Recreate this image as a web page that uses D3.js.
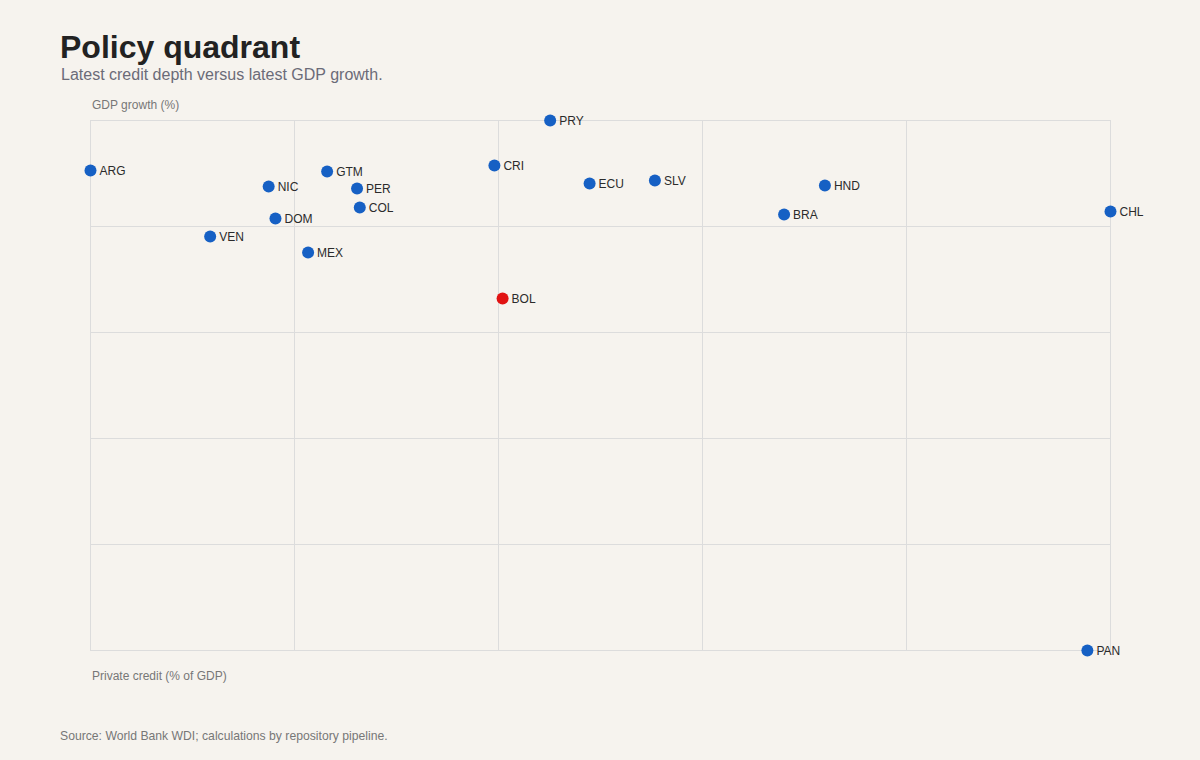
<!DOCTYPE html>
<html>
<head>
<meta charset="utf-8">
<script src="https://cdn.jsdelivr.net/npm/d3@7"></script>
<style>
  body { margin: 0; background: #f6f3ee; font-family: "Liberation Sans", Arial, sans-serif; }
</style>
</head>
<body>
<div id="chart"></div>
<script>
const countries = ['ARG', 'NIC', 'GTM', 'PER', 'COL', 'DOM', 'VEN', 'MEX', 'CRI', 'PRY', 'ECU', 'SLV', 'BOL', 'HND', 'BRA', 'CHL', 'PAN'];
const privateCredit = [8.0, 21.1, 25.4, 27.6, 27.8, 21.6, 16.8, 24.0, 37.7, 41.8, 44.7, 49.5, 38.3, 62.0, 59.0, 83.0, 81.3];
const gdpGrowth = [2.57, 1.89, 2.53, 1.80, 0.99, 0.52, -0.25, -0.93, 2.78, 4.7, 2.01, 2.14, -2.89, 1.93, 0.69, 0.82, -17.9];
const highlight = 'BOL';

const width = 1200;
const height = 760;
const margin = { top: 120, right: 90, bottom: 110, left: 90 };

const svg = d3.select('#chart')
  .append('svg')
  .attr('width', width)
  .attr('height', height);

svg.append('rect')
  .attr('width', width)
  .attr('height', height)
  .attr('fill', '#f6f3ee');

const data = countries.map((c, i) => ({ code: c, x: privateCredit[i], y: gdpGrowth[i] }));

const x = d3.scaleLinear()
  .domain(d3.extent(privateCredit))
  .range([margin.left, width - margin.right]);

const y = d3.scaleLinear()
  .domain(d3.extent(gdpGrowth))
  .range([height - margin.bottom, margin.top]);

// evenly spaced grid across the domain
const steps = d3.range(6).map((i) => i / 5);
const grid = svg.append('g').attr('stroke', '#dcdcdc').attr('stroke-width', 1);

grid.selectAll('.gx')
  .data(steps.map((t) => x.domain()[0] + t * (x.domain()[1] - x.domain()[0])))
  .enter()
  .append('line')
  .attr('x1', (d) => Math.round(x(d)) + 0.5)
  .attr('x2', (d) => Math.round(x(d)) + 0.5)
  .attr('y1', margin.top)
  .attr('y2', height - margin.bottom);

grid.selectAll('.gy')
  .data(steps.map((t) => y.domain()[0] + t * (y.domain()[1] - y.domain()[0])))
  .enter()
  .append('line')
  .attr('y1', (d) => Math.round(y(d)) + 0.5)
  .attr('y2', (d) => Math.round(y(d)) + 0.5)
  .attr('x1', margin.left)
  .attr('x2', width - margin.right);

// points
const pts = svg.selectAll('.pt')
  .data(data)
  .enter()
  .append('g')
  .attr('transform', (d) => `translate(${x(d.x) + 0.5},${y(d.y) + 0.5})`);

pts.append('circle')
  .attr('r', 6)
  .attr('fill', (d) => (d.code === highlight ? '#e11212' : '#1660c4'));

pts.append('text')
  .attr('x', 9)
  .attr('dy', '0.35em')
  .style('font-size', '12px')
  .attr('fill', '#2b2b2b')
  .text((d) => d.code);

// titles
svg.append('text')
  .attr('x', 60)
  .attr('y', 58)
  .style('font-size', '32px')
  .style('font-weight', 'bold')
  .attr('fill', '#222')
  .text('Policy quadrant');

svg.append('text')
  .attr('x', 61)
  .attr('y', 80)
  .style('font-size', '16px')
  .attr('fill', '#6b6b78')
  .text('Latest credit depth versus latest GDP growth.');

svg.append('text')
  .attr('x', 92)
  .attr('y', 109)
  .style('font-size', '12px')
  .attr('fill', '#777')
  .text('GDP growth (%)');

svg.append('text')
  .attr('x', 92)
  .attr('y', 680)
  .style('font-size', '12px')
  .attr('fill', '#777')
  .text('Private credit (% of GDP)');

svg.append('text')
  .attr('x', 60)
  .attr('y', 740)
  .style('font-size', '12.2px')
  .attr('fill', '#777')
  .text('Source: World Bank WDI; calculations by repository pipeline.');
</script>
</body>
</html>
